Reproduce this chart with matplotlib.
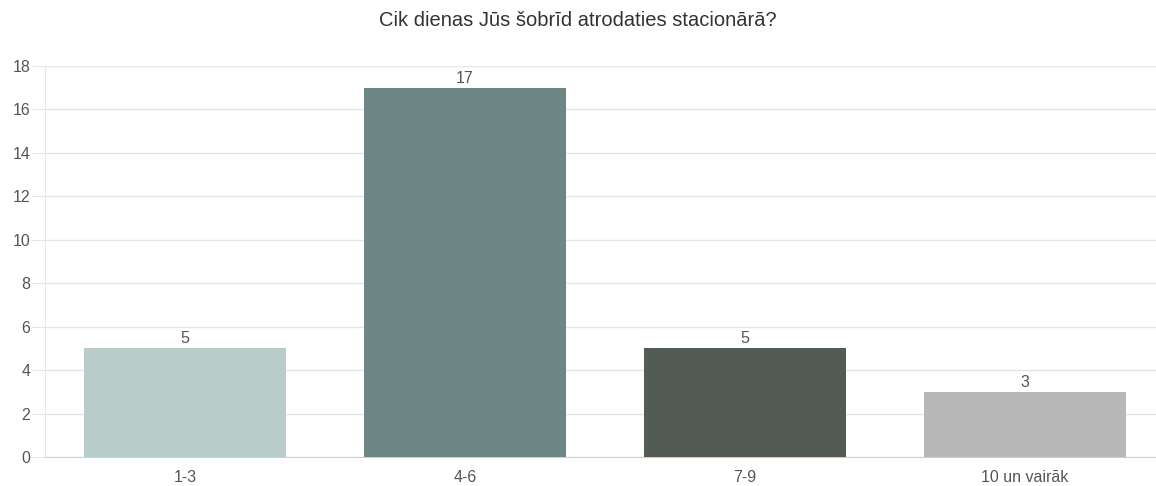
import matplotlib
matplotlib.use("Agg")
import matplotlib.pyplot as plt

categories = ["1-3", "4-6", "7-9", "10 un vairāk"]
counts = [5, 17, 5, 3]
colors = ["#b8cdc9", "#6d8786", "#525c55", "#b8b8b9"]
title = "Cik dienas Jūs šobrīd atrodaties stacionārā?"

plt.rcParams["font.family"] = ["Liberation Sans", "DejaVu Sans"]

W, H = 1156, 486
fig = plt.figure(figsize=(W / 100, H / 100), dpi=100)
ax = fig.add_axes([45 / W, (H - 457) / H, (W - 45) / W, (457 - 66) / H])

x = range(len(categories))
ax.bar(x, counts, width=0.72, color=colors, zorder=3)
for xi, v in zip(x, counts):
    ax.annotate(str(v), (xi, v), xytext=(0, 1.5), textcoords="offset points",
                ha="center", va="bottom", fontsize=11.5, color="#555555")

ax.set_xlim(-0.5, -0.5 + (W - 45) / 280)
ax.set_ylim(0, 18)
ax.set_yticks(range(0, 19, 2))
ax.set_xticks(list(x))
ax.set_xticklabels(categories)
ax.tick_params(axis="y", length=10, color="#e6e6e6", labelsize=11.5, labelcolor="#555555", pad=0.5)
ax.tick_params(axis="x", length=0, labelsize=11.5, labelcolor="#555555", pad=9)
ax.grid(axis="y", color="#e6e6e6", linewidth=1, zorder=0)

for s in ["top", "right"]:
    ax.spines[s].set_visible(False)
ax.spines["left"].set_color("#e6e6e6")
ax.spines["bottom"].set_color("#cfcfcf")

fig.text(0.5, 1 - 21 / H, title, ha="center", va="center", fontsize=14.5, color="#333333")

fig.savefig("out.png", dpi=100)
